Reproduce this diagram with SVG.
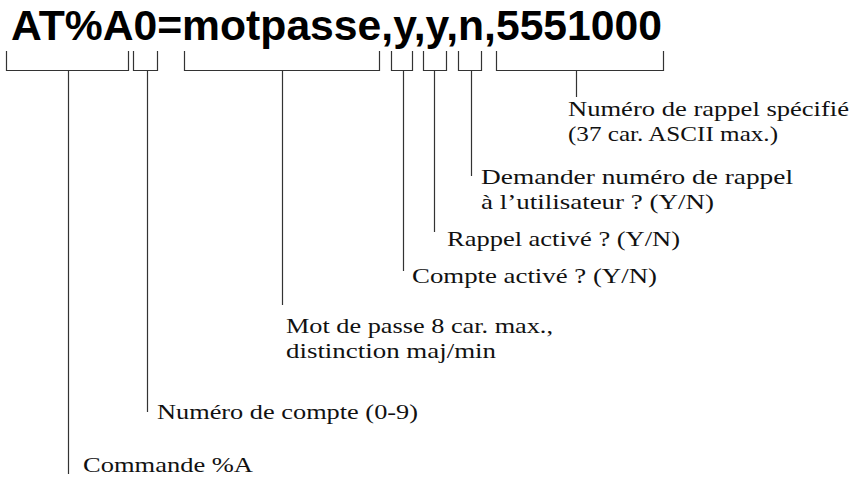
<svg xmlns="http://www.w3.org/2000/svg" width="859" height="478" viewBox="0 0 859 478">
<style>
.title{font-family:"Liberation Sans",Arial,sans-serif;font-weight:bold;font-size:42px;fill:#000}
.lbl{font-family:"Liberation Serif","Times New Roman",serif;font-size:22px;fill:#111}
.br{fill:none;stroke:#333;stroke-width:1.2}
</style>
<rect width="859" height="478" fill="#fff"/>
<g id="title"><text class="title" x="11" y="40" textLength="651" lengthAdjust="spacingAndGlyphs">AT%A0=motpasse,y,y,n,5551000</text></g>
<g id="connectors">
<path class="br" d="M6.5 51V70.5H128.5V51M68.5 70.5V474"/>
<path class="br" d="M133.5 51V70.5H157.5V51M147.5 70.5V412"/>
<path class="br" d="M184.5 51V70.5H379.5V51M282.5 70.5V305"/>
<path class="br" d="M391.5 51V70.5H412.5V51M403.5 70.5V271"/>
<path class="br" d="M423.5 51V70.5H446.5V51M434.5 70.5V232"/>
<path class="br" d="M458.5 51V70.5H481.5V51M471.5 70.5V176"/>
<path class="br" d="M496.5 51V70.5H663.5V51M576.5 70.5V97"/>
</g>
<g id="n-rappel"><text class="lbl" x="568" y="116" textLength="281" lengthAdjust="spacingAndGlyphs">Numéro de rappel spécifié</text><text class="lbl" x="568" y="141" textLength="210" lengthAdjust="spacingAndGlyphs">(37 car. ASCII max.)</text></g>
<g id="n-demander"><text class="lbl" x="481" y="184" textLength="312" lengthAdjust="spacingAndGlyphs">Demander numéro de rappel</text><text class="lbl" x="481" y="209" textLength="233" lengthAdjust="spacingAndGlyphs">à l’utilisateur ? (Y/N)</text></g>
<g id="n-rappel-active"><text class="lbl" x="447" y="246" textLength="233" lengthAdjust="spacingAndGlyphs">Rappel activé ? (Y/N)</text></g>
<g id="n-compte-active"><text class="lbl" x="412" y="283" textLength="245" lengthAdjust="spacingAndGlyphs">Compte activé ? (Y/N)</text></g>
<g id="n-motpasse"><text class="lbl" x="286" y="333" textLength="267" lengthAdjust="spacingAndGlyphs">Mot de passe 8 car. max.,</text><text class="lbl" x="286" y="358" textLength="210" lengthAdjust="spacingAndGlyphs">distinction maj/min</text></g>
<g id="n-compte"><text class="lbl" x="157" y="419" textLength="261" lengthAdjust="spacingAndGlyphs">Numéro de compte (0-9)</text></g>
<g id="n-commande"><text class="lbl" x="83" y="472" textLength="170" lengthAdjust="spacingAndGlyphs">Commande %A</text></g>
</svg>
